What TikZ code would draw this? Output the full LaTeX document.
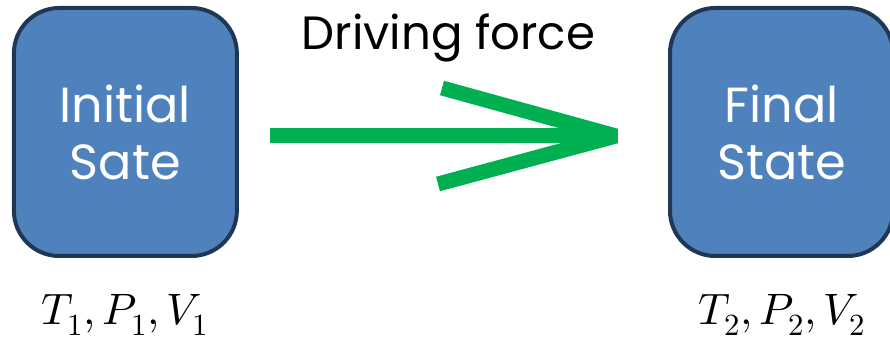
\documentclass[tikz,border=0pt]{standalone}
\usepackage{fontspec}
\usepackage{unicode-math}
\setmathfont{Latin Modern Math}
\newfontfamily\comicfont{Poppins}
\definecolor{boxfill}{HTML}{4F81BD}
\definecolor{boxborder}{HTML}{1F3654}
\definecolor{arrowgreen}{HTML}{00B050}
\begin{document}
\begin{tikzpicture}[x=0.75pt,y=-0.75pt]
\useasboundingbox (0,0) rectangle (890,342);
\tikzset{
  statebox/.style={draw=boxborder, fill=boxfill, line width=3pt, rounded corners=34pt,
    minimum width=167.25pt, minimum height=186pt, inner sep=0pt, align=center,
    text=white, font=\comicfont\fontsize{37}{42.75}\selectfont},
  varlabel/.style={anchor=base, inner sep=0pt, font=\fontsize{33}{40}\selectfont},
  forcelabel/.style={anchor=base, inner sep=0pt, font=\comicfont\fontsize{35}{42}\selectfont},
  arrowline/.style={draw=arrowgreen, line width=11.25pt, line cap=butt, line join=bevel}
}
\node[statebox] (init) at (125.4,132) {Initial\\Sate};
\node[statebox] (final) at (781.5,132) {Final\\State};
\node[varlabel] (v1) at (125,325) {$T_1, P_1, V_1$};
\node[varlabel] (v2) at (782,325) {$T_2, P_2, V_2$};
\node[forcelabel] (force) at (448.5,50) {Driving force};
\coordinate (start) at (270,136);
\coordinate (tip) at (616,136);
\coordinate (upper) at (442,88);
\coordinate (lower) at (438,184);
\draw[arrowline] (start) -- ([xshift=-1.5pt]tip);
\draw[arrowline] (upper) -- (tip) -- (lower);
\end{tikzpicture}
\end{document}
